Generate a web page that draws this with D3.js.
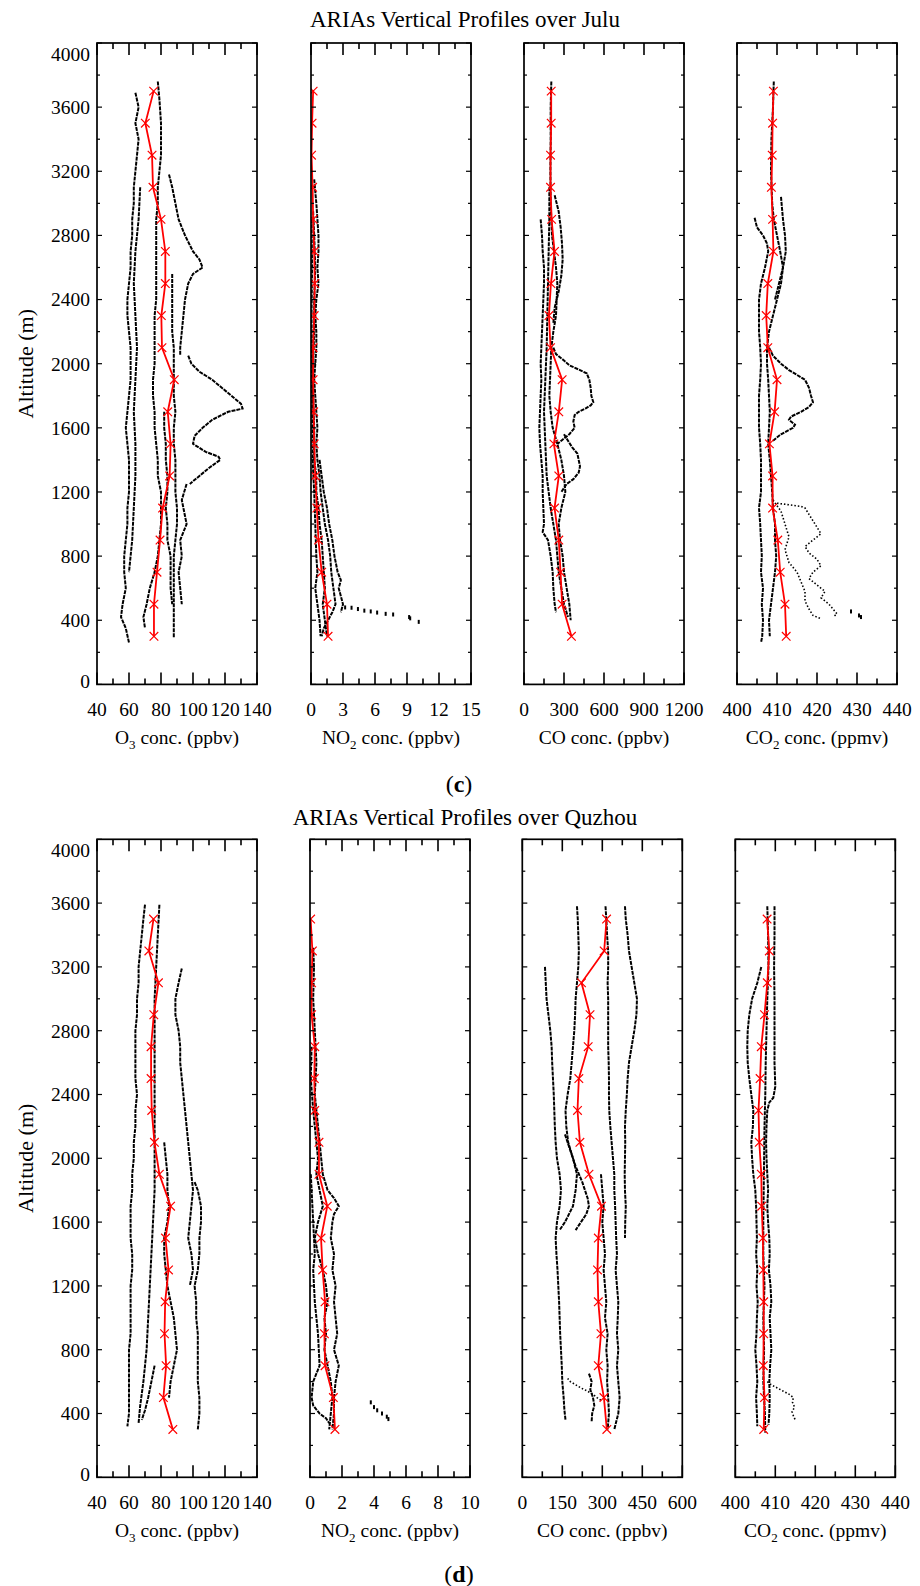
<!DOCTYPE html>
<html>
<head>
<meta charset="utf-8">
<script src="https://cdn.jsdelivr.net/npm/d3@7"></script>
<style>
  body { margin: 0; background: #fff; }
  svg { display: block; font-family: "Liberation Serif", "Times New Roman", serif; }
</style>
</head>
<body>
<svg id="chart" width="920" height="1586"></svg>
<script>
// ---- altitudes of the red mean profiles (m)
const juluAlt = [3700, 3500, 3300, 3100, 2900, 2700, 2500, 2300, 2100, 1900, 1700, 1500, 1300, 1100, 900, 700, 500, 300];
const quzhouAlt = [3500, 3300, 3100, 2900, 2700, 2500, 2300, 2100, 1900, 1700, 1500, 1300, 1100, 900, 700, 500, 300];

// ---- mean values (red lines)
const juluO3Mean = [75.4, 70.2, 74.4, 75, 80, 82.7, 82.7, 80.2, 80.6, 88.3, 84.2, 86, 85.4, 81, 79.4, 77.5, 75.6, 75.6];
const juluNO2Mean = [0.2, 0.1, 0.05, 0.15, 0.2, 0.3, 0.35, 0.3, 0.2, 0.2, 0.25, 0.3, 0.4, 0.55, 0.7, 1.0, 1.5, 1.6];
const juluCOMean = [204, 204, 199, 199, 207, 229, 202, 187, 199, 286, 261, 224, 261, 229, 261, 274, 286, 356];
const juluCO2Mean = [409.1, 408.9, 408.8, 408.6, 408.9, 409.1, 407.7, 407.3, 407.7, 410.0, 409.4, 408.1, 408.9, 408.9, 410.2, 410.8, 412.0, 412.3];

const quzhouO3Mean = [75.3, 72.4, 78.4, 75.5, 73.8, 73.8, 74.2, 75.9, 79, 86, 82.8, 84.7, 82.6, 82.2, 83.2, 81.5, 87.4];
const quzhouNO2Mean = [0.04, 0.15, 0.1, 0.1, 0.3, 0.27, 0.3, 0.56, 0.56, 1.08, 0.69, 0.79, 0.94, 0.9, 0.94, 1.46, 1.56];
const quzhouCOMean = [316, 307, 222, 254, 247, 212, 207, 216, 250, 297, 285, 282, 285, 295, 285, 306, 317];
const quzhouCO2Mean = [407.95, 408.5, 408, 407.3, 406.5, 406.2, 405.8, 406, 406.5, 406.6, 406.9, 407, 407.1, 407.1, 407, 407.3, 407.1];

// ---- individual flight profiles, [altitude, value]
const juluO3Profiles = [
  [[3690,64],[3600,66],[3500,64],[3400,66],[3300,65],[3200,64],[3100,63],[3000,63],[2900,62],[2800,62],[2700,61],[2600,61],[2500,60],[2400,59],[2300,59],[2200,60],[2100,61],[2000,61],[1900,61],[1800,60],[1700,59],[1600,58],[1500,59],[1400,60],[1300,60],[1200,60],[1100,59],[1000,59],[900,58],[800,57],[700,57],[600,58],[500,56],[420,55],[350,58],[260,60]],
  [[3100,67],[2900,66],[2700,64],[2500,63],[2300,64],[2100,65],[1900,64],[1700,63],[1500,64],[1300,64],[1100,63],[900,62],[700,60]],
  [[3760,78],[3650,79],[3500,80],[3400,80],[3300,80],[3200,79],[3100,78],[3000,78],[2900,77],[2800,77],[2700,77],[2600,77],[2500,77],[2400,77],[2300,76],[2200,76],[2100,76],[2000,76],[1900,75],[1800,75],[1700,76],[1600,76],[1500,77],[1400,78],[1300,78],[1200,80],[1100,80],[1000,80],[900,79],[800,78],[700,76],[600,73],[500,71],[420,69],[350,70]],
  [[2560,87],[2450,87],[2300,87],[2200,87],[2100,88],[2000,88],[1900,88],[1800,88],[1700,89],[1600,88],[1500,88],[1400,89],[1300,89],[1200,89],[1100,90],[1000,90],[900,89],[800,88],[700,88],[600,88],[500,88],[400,88],[290,88]],
  [[1700,82],[1600,82],[1500,83],[1400,83],[1300,84],[1200,84],[1100,83],[1000,84],[900,84],[800,86],[700,86],[600,86],[500,87]],
  [[3180,85],[3100,87],[3000,89],[2900,91],[2800,95],[2700,100],[2650,104],[2600,106],[2560,100],[2500,97],[2400,95],[2300,94],[2200,93],[2100,92],[2050,92]],
  [[2050,97],[2000,99],[1950,104],[1900,112],[1850,118],[1800,124],[1750,130],[1720,131],[1700,122],[1650,112],[1600,106],[1550,101],[1500,100],[1450,108],[1420,116],[1400,117],[1350,110],[1300,104],[1250,98]],
  [[1250,96],[1150,93],[1050,95],[1000,96],[900,92],[800,93],[700,91],[600,92],[500,93]]
];
const juluNO2Profiles = [
  [[3150,0.3],[3000,0.5],[2900,0.6],[2800,0.7],[2700,0.7],[2600,0.6],[2500,0.7],[2400,0.5],[2300,0.4],[2200,0.5],[2100,0.5],[2000,0.4],[1900,0.3],[1800,0.4],[1700,0.5],[1600,0.6],[1500,0.5],[1400,0.6],[1300,0.8],[1200,0.9],[1100,1.1],[1000,1.3],[900,1.6],[800,1.8],[700,1.9],[600,2.1],[500,2.3],[450,2.0],[400,1.6],[350,1.2],[300,1.0]],
  [[2950,0.2],[2800,0.3],[2600,0.4],[2400,0.3],[2200,0.3],[2000,0.2],[1800,0.2],[1600,0.3],[1400,0.3],[1300,0.5],[1200,0.5],[1100,0.7],[1000,0.8],[900,1.0],[800,1.1],[700,1.2],[600,1.3],[500,1.1],[400,1.3],[300,1.5]],
  [[2900,0.05],[2600,0.1],[2300,0.05],[2000,0.1],[1700,0.1],[1400,0.15],[1200,0.3],[1000,0.4],[800,0.5],[700,0.6],[600,0.4],[500,0.6],[400,0.8],[300,0.9]],
  [[1400,0.8],[1300,1.0],[1200,1.2],[1100,1.5],[1000,1.7],[900,2.0],[800,2.2],[700,2.5],[650,2.8],[600,2.6],[550,2.8],[500,3.0],[450,2.8]]
];
const juluNO2Dots = [[480,3.2],[478,3.8],[470,4.4],[460,5.0],[455,5.6],[448,6.2],[440,7.0],[436,7.7],[420,9.2],[412,9.3],[390,10.1]];

const juluCOProfiles = [
  [[3760,205],[3600,200],[3400,200],[3200,198],[3000,200],[2900,205],[2800,210],[2700,225],[2600,240],[2500,250],[2400,245],[2300,240],[2200,220],[2100,205],[2000,200],[1900,195],[1800,190],[1700,200],[1600,215],[1500,250],[1400,280],[1300,300],[1200,310],[1100,280],[1000,260],[900,270],[800,290],[700,300],[600,320],[500,340],[400,350]],
  [[2100,220],[2060,240],[2020,300],[1990,340],[1960,420],[1940,470],[1900,490],[1850,500],[1800,505],[1760,520],[1740,500],[1720,460],[1700,410],[1680,380],[1640,370],[1600,380],[1560,340],[1520,280],[1500,250]],
  [[1560,300],[1520,330],[1480,360],[1440,400],[1400,410],[1360,420],[1320,410],[1280,370],[1250,320],[1200,280]],
  [[2900,125],[2800,135],[2700,140],[2600,150],[2500,150],[2400,145],[2300,140],[2200,135],[2100,130],[2000,125],[1900,130],[1800,125],[1700,120],[1600,115],[1500,120],[1400,130],[1300,140],[1200,140],[1100,145],[1000,150],[950,140],[900,180],[800,200],[700,215],[600,220],[500,230],[450,240]],
  [[3100,190],[2900,190],[2700,185],[2500,180],[2300,175],[2100,170],[1900,160],[1700,150],[1500,160],[1300,170],[1100,200],[900,240],[700,260],[600,280],[500,300],[420,330]],
  [[3050,230],[2950,260],[2850,275],[2750,285],[2650,290],[2550,280],[2450,260],[2350,230],[2250,220]]
];

const juluCO2Profiles = [
  [[2910,404.4],[2850,405],[2800,406.5],[2750,407.5],[2700,407.8],[2600,407],[2500,406],[2400,405.5],[2300,405.5],[2200,405.5],[2100,405.8],[2000,406],[1900,405.8],[1800,405.5],[1700,405.5],[1600,405.5],[1500,405.8],[1400,406],[1300,406],[1200,406],[1100,405.5],[1000,405.8],[900,406],[800,406.2],[700,406],[600,406.5],[500,406.2],[400,406.5],[300,406.3],[260,406]],
  [[3760,409.2],[3600,409],[3400,408.6],[3200,408.5],[3000,408.8],[2900,409.2],[2800,410],[2700,410.8],[2600,411.5],[2500,411],[2400,410],[2300,409],[2200,408],[2100,407.5],[2000,407.5],[1900,407.8],[1800,408],[1700,408.2],[1600,408],[1500,407.8],[1400,408.2],[1300,408.5],[1200,408.8],[1100,409],[1000,409.5],[900,409.5],[800,409.8],[700,409.5],[600,409],[500,408.5],[400,408],[300,408.2]],
  [[2100,408],[2050,409],[2000,411],[1960,413],[1930,415],[1900,417],[1850,418],[1800,418.5],[1760,419],[1730,418],[1700,416],[1670,413.5],[1650,413],[1620,414.5],[1600,414],[1560,411],[1520,409]],
  [[3040,411],[2900,411.5],[2800,412],[2700,412.2],[2600,411.5],[2500,410.5],[2400,409.5]]
];
const juluCO2Dotted = [
  [[1130,410],[1120,413],[1110,416],[1100,417],[1060,418],[1020,419],[980,420],[940,421],[900,419],[860,417],[820,418],[780,420],[740,421],[700,419],[660,418],[620,420],[580,422],[540,421],[500,423],[470,424],[440,425],[420,424]],
  [[1150,409],[1080,411],[1000,412],[920,413],[840,412],[760,413],[700,415],[640,416],[580,417],[520,417],[470,418],[430,419],[410,421]]
];
const juluCO2Dots = [[455,428.5],[430,430.5],[420,431]];

const quzhouO3Profiles = [
  [[3590,70],[3500,69],[3400,68],[3300,67],[3200,66],[3100,66],[3000,65],[2900,65],[2800,64],[2700,64],[2600,64],[2500,64],[2400,65],[2300,64],[2200,64],[2100,63],[2000,63],[1900,62],[1800,62],[1700,61],[1600,61],[1500,61],[1400,62],[1300,62],[1200,61],[1100,61],[1000,61],[900,61],[800,60],[700,60],[600,60],[500,60],[400,60],[320,59]],
  [[3590,79],[3400,78],[3200,77],[3000,76],[2800,76],[2600,76],[2400,76],[2200,76],[2000,76],[1800,76],[1600,75],[1400,74],[1200,73],[1000,72],[800,71],[600,69],[450,67],[340,66]],
  [[1850,101],[1800,103],[1700,105],[1600,105],[1500,104],[1400,104],[1300,103],[1200,101],[1100,102],[1000,102],[900,103],[800,103],[700,103],[600,103],[500,104],[400,104],[300,103]],
  [[3190,93],[3100,91],[3000,89],[2900,89],[2800,91],[2700,92],[2600,92],[2500,93],[2400,94],[2300,95],[2200,96],[2100,97],[2000,98],[1900,99],[1800,100],[1700,99],[1600,98],[1500,97],[1400,99],[1300,100],[1200,98]],
  [[2100,82],[2000,83],[1900,84],[1800,84],[1700,85],[1600,84],[1500,82],[1400,82],[1300,83],[1200,84],[1100,86],[1000,88],[900,89],[800,90],[700,88],[600,86],[500,85]],
  [[700,76],[600,74],[500,72],[420,70],[360,68]]
];
const quzhouNO2Profiles = [
  [[3320,0.2],[3200,0.25],[3000,0.2],[2800,0.3],[2600,0.4],[2400,0.3],[2200,0.5],[2000,0.7],[1900,0.8],[1800,1.1],[1750,1.5],[1700,1.8],[1650,1.5],[1600,1.4],[1500,1.3],[1400,1.5],[1300,1.4],[1200,1.6],[1100,1.5],[1000,1.6],[900,1.7],[800,1.5],[700,1.8],[600,1.6],[500,1.5],[400,1.5],[300,1.4]],
  [[2700,0.1],[2500,0.05],[2300,0.2],[2100,0.4],[2000,0.5],[1900,0.4],[1800,0.6],[1700,0.8],[1600,0.5],[1500,0.3],[1400,0.5],[1300,0.8],[1200,1.0],[1100,1.1],[1000,0.9],[900,1.0],[800,0.9],[700,1.1],[600,1.3],[500,1.4],[400,1.3],[300,1.2]],
  [[1900,0.05],[1800,0.1],[1600,0.2],[1400,0.3],[1300,0.2],[1100,0.3],[900,0.5],[700,0.6],[600,0.2],[500,0.1],[450,0.2],[400,0.6],[370,1.0],[340,1.2]]
];
const quzhouNO2Dots = [[470,3.8],[440,4.0],[420,4.2],[400,4.5],[380,4.8],[365,4.9]];

const quzhouCOProfiles = [
  [[3200,85],[3100,88],[3000,91],[2900,98],[2800,105],[2700,110],[2600,112],[2500,115],[2400,118],[2300,120],[2200,122],[2100,125],[2000,130],[1900,140],[1800,145],[1700,140],[1600,130],[1500,125],[1400,128],[1300,132],[1200,135],[1100,138],[1000,140],[900,142],[800,145],[700,148],[600,150],[500,155],[420,158],[360,162]],
  [[3580,205],[3500,208],[3400,210],[3300,212],[3200,210],[3100,205],[3000,200],[2900,198],[2800,195],[2700,190],[2600,185],[2500,180],[2400,170],[2300,162],[2200,165],[2100,172],[2000,190],[1900,205],[1800,200],[1700,190],[1650,175],[1600,160],[1550,140]],
  [[3580,312],[3500,315],[3400,318],[3300,322],[3200,322],[3100,320],[3000,322],[2900,322],[2800,322],[2700,322],[2600,324],[2500,325],[2400,325],[2300,326],[2200,330],[2100,335],[2000,340],[1900,345],[1800,345],[1700,348],[1600,350],[1500,352],[1400,355],[1300,350],[1200,355],[1100,360],[1000,358],[900,355],[800,360],[700,355],[600,360],[500,365],[400,360],[300,345]],
  [[3580,385],[3500,388],[3400,395],[3300,400],[3200,410],[3100,420],[3000,430],[2900,428],[2800,420],[2700,410],[2600,400],[2500,395],[2400,392],[2300,388],[2200,385],[2100,386],[2000,385],[1900,384],[1800,385],[1700,388],[1600,386],[1500,385]],
  [[1900,295],[1800,300],[1700,305],[1600,300],[1500,305],[1400,310],[1300,305],[1200,310],[1100,315],[1000,310],[900,320],[800,315],[700,320],[600,318],[500,322],[400,325],[300,320]],
  [[650,250],[600,260],[550,255],[500,265],[450,270],[400,262],[350,260]],
  [[2150,160],[2050,180],[1950,200],[1850,225],[1750,245],[1700,250],[1650,240],[1600,220],[1550,200]]
];
const quzhouCODotted = [[[620,170],[600,180],[580,200],[560,220],[540,245],[520,265],[500,280],[480,297]]];

const quzhouCO2Profiles = [
  [[3580,408],[3400,408.2],[3200,408.3],[3000,408],[2800,407.8],[2600,407.6],[2400,407.5],[2200,407.3],[2000,407.2],[1800,407.1],[1600,407],[1400,407],[1200,407.3],[1000,407],[800,407.2],[600,407],[400,407.4],[280,407.5]],
  [[3580,409.8],[3400,409.8],[3200,409.7],[3000,409.8],[2800,409.8],[2600,409.8],[2450,410],[2380,409.5],[2350,408.5],[2300,408],[2200,407.8],[2100,407.7],[2000,407.8],[1900,408],[1800,408.2],[1700,408],[1600,408.2],[1500,408.5],[1400,408.6],[1300,408.4],[1200,408.8],[1100,409],[1000,408.6],[900,408.8],[800,409],[700,408.7],[600,408.5],[500,408.6],[400,408.5],[330,408.3]],
  [[3200,406.5],[3100,405.5],[3000,404.2],[2900,403.5],[2800,403.1],[2700,403],[2600,403.1],[2500,403.5],[2400,404],[2300,404.5],[2200,404.4],[2100,404],[2000,404.2],[1900,404.5],[1800,405],[1700,405.2],[1600,405.3],[1500,405.4],[1400,405.2],[1300,405.5],[1200,405.3],[1100,405.6],[1000,405.4],[900,405.3],[800,405],[700,405.3],[600,405.5],[500,405.2],[400,405.4],[320,405.5]]
];
const quzhouCO2Dotted = [[[600,408],[580,409],[560,410.5],[540,412],[520,413.5],[500,414.5],[470,414.3],[440,414.8],[410,414.2],[380,414.6],[360,415]]];

// ---- tick labels
const altTicks = [0, 400, 800, 1200, 1600, 2000, 2400, 2800, 3200, 3600, 4000];
const o3Ticks = [40, 60, 80, 100, 120, 140];
const juluNO2Ticks = [0, 3, 6, 9, 12, 15];
const juluCOTicks = [0, 300, 600, 900, 1200];
const co2Ticks = [400, 410, 420, 430, 440];
const quzhouNO2Ticks = [0, 2, 4, 6, 8, 10];
const quzhouCOTicks = [0, 150, 300, 450, 600];

const o3Label = [["O", 0], ["3", 1], [" conc. (ppbv)", 0]];
const no2Label = [["NO", 0], ["2", 1], [" conc. (ppbv)", 0]];
const coLabel = [["CO conc. (ppbv)", 0]];
const co2Label = [["CO", 0], ["2", 1], [" conc. (ppmv)", 0]];

const svg = d3.select('#chart');
const W = 160;

const rows = [
  {
    title: 'ARIAs Vertical Profiles over Julu', titleY: 27, tag: 'c', tagY: 792,
    top: 43, bottom: 684.4, alt: juluAlt,
    panels: [
      { left: 97, ticks: o3Ticks, label: o3Label, profiles: juluO3Profiles, mean: juluO3Mean },
      { left: 311, ticks: juluNO2Ticks, label: no2Label, profiles: juluNO2Profiles, mean: juluNO2Mean, dots: juluNO2Dots },
      { left: 524, ticks: juluCOTicks, label: coLabel, profiles: juluCOProfiles, mean: juluCOMean },
      { left: 737, ticks: co2Ticks, label: co2Label, profiles: juluCO2Profiles, mean: juluCO2Mean, dotted: juluCO2Dotted, dots: juluCO2Dots }
    ]
  },
  {
    title: 'ARIAs Vertical Profiles over Quzhou', titleY: 825, tag: 'd', tagY: 1582,
    top: 839.3, bottom: 1477.3, alt: quzhouAlt,
    panels: [
      { left: 97, ticks: o3Ticks, label: o3Label, profiles: quzhouO3Profiles, mean: quzhouO3Mean },
      { left: 310, ticks: quzhouNO2Ticks, label: no2Label, profiles: quzhouNO2Profiles, mean: quzhouNO2Mean, dots: quzhouNO2Dots },
      { left: 522.3, ticks: quzhouCOTicks, label: coLabel, profiles: quzhouCOProfiles, mean: quzhouCOMean, dotted: quzhouCODotted },
      { left: 735.3, ticks: co2Ticks, label: co2Label, profiles: quzhouCO2Profiles, mean: quzhouCO2Mean, dotted: quzhouCO2Dotted }
    ]
  }
];

rows.forEach((row, ri) => {
  const y = d3.scaleLinear().domain([0, 4000]).range([row.bottom, row.top]);

  svg.append('text')
    .attr('x', 465).attr('y', row.titleY)
    .attr('text-anchor', 'middle')
    .attr('font-size', 23)
    .text(row.title);

  const tag = svg.append('text')
    .attr('x', 459).attr('y', row.tagY)
    .attr('text-anchor', 'middle')
    .attr('font-size', 24);
  tag.append('tspan').text('(');
  tag.append('tspan').attr('font-weight', 'bold').text(row.tag);
  tag.append('tspan').text(')');

  svg.append('text')
    .attr('transform', `translate(33, ${(row.top + row.bottom) / 2}) rotate(-90)`)
    .attr('text-anchor', 'middle')
    .attr('font-size', 22)
    .text('Altitude (m)');

  row.panels.forEach((p, pi) => {
    const ext = d3.extent(p.ticks);
    const x = d3.scaleLinear().domain(ext).range([p.left, p.left + W]);
    const g = svg.append('g');
    const clipId = `clip${ri}${pi}`;
    g.append('clipPath').attr('id', clipId)
      .append('rect')
      .attr('x', p.left).attr('y', row.top)
      .attr('width', W).attr('height', row.bottom - row.top);

    const plot = g.append('g').attr('clip-path', `url(#${clipId})`);
    const line = d3.line().x(d => x(d[1])).y(d => y(d[0]));

    plot.selectAll('path.prof')
      .data(p.profiles)
      .join('path')
      .attr('class', 'prof')
      .attr('d', line)
      .attr('fill', 'none')
      .attr('stroke', '#000')
      .attr('stroke-width', 2)
      .attr('stroke-dasharray', '4 1');

    plot.selectAll('path.dotted')
      .data(p.dotted || [])
      .join('path')
      .attr('class', 'dotted')
      .attr('d', line)
      .attr('fill', 'none')
      .attr('stroke', '#000')
      .attr('stroke-width', 1.6)
      .attr('stroke-dasharray', '1.5 2');

    plot.selectAll('rect.dot')
      .data(p.dots || [])
      .join('rect')
      .attr('class', 'dot')
      .attr('x', d => x(d[1]) - 1)
      .attr('y', d => y(d[0]) - 2)
      .attr('width', 2).attr('height', 4)
      .attr('fill', '#000');

    const meanPts = row.alt.map((a, i) => [a, p.mean[i]]);
    plot.append('path')
      .attr('d', line(meanPts))
      .attr('fill', 'none')
      .attr('stroke', '#ff0000')
      .attr('stroke-width', 1.8);

    plot.selectAll('path.mk')
      .data(meanPts)
      .join('path')
      .attr('class', 'mk')
      .attr('transform', d => `translate(${x(d[1])},${y(d[0])})`)
      .attr('d', d3.symbol(d3.symbolTimes, 50))
      .attr('fill', 'none')
      .attr('stroke', '#ff0000')
      .attr('stroke-width', 1.2);

    // frame
    g.append('rect')
      .attr('x', p.left).attr('y', row.top)
      .attr('width', W).attr('height', row.bottom - row.top)
      .attr('fill', 'none')
      .attr('stroke', '#000')
      .attr('stroke-width', 1.7);

    // x ticks, major and minor, inward on top and bottom
    const step = p.ticks[1] - p.ticks[0];
    const minor = p.ticks.slice(0, -1).map(t => t + step / 2);
    const xt = [...p.ticks.map(t => [t, 12]), ...minor.map(t => [t, 6])];
    g.selectAll('line.xt')
      .data(xt.flatMap(d => [[d[0], row.bottom, -d[1]], [d[0], row.top, d[1]]]))
      .join('line')
      .attr('x1', d => x(d[0])).attr('x2', d => x(d[0]))
      .attr('y1', d => d[1]).attr('y2', d => d[1] + d[2])
      .attr('stroke', '#000').attr('stroke-width', 1.6);

    // y ticks
    const yt = [...altTicks.map(t => [t, 5]), ...altTicks.slice(0, -1).map(t => [t + 200, 3])];
    g.selectAll('line.yt')
      .data(yt.flatMap(d => [[d[0], p.left, d[1]], [d[0], p.left + W, -d[1]]]))
      .join('line')
      .attr('x1', d => d[1]).attr('x2', d => d[1] + d[2])
      .attr('y1', d => y(d[0])).attr('y2', d => y(d[0]))
      .attr('stroke', '#000').attr('stroke-width', 1.2);

    g.selectAll('text.xl')
      .data(p.ticks)
      .join('text')
      .attr('x', d => x(d))
      .attr('y', row.bottom + 32)
      .attr('text-anchor', 'middle')
      .attr('font-size', 19.5)
      .text(d => d);

    const lab = g.append('text')
      .attr('x', p.left + W / 2)
      .attr('y', row.bottom + 60)
      .attr('text-anchor', 'middle')
      .attr('font-size', 19.5);
    p.label.forEach(([s, sub], i) => {
      const prevSub = i > 0 && p.label[i - 1][1];
      lab.append('tspan')
        .attr('font-size', sub ? 13 : 19.5)
        .attr('dy', sub ? 5 : (prevSub ? -5 : 0))
        .text(s);
    });

    if (pi === 0) {
      g.selectAll('text.yl')
        .data(altTicks)
        .join('text')
        .attr('x', p.left - 7)
        .attr('y', d => Math.min(Math.max(y(d), row.top + 11), row.bottom - 3))
        .attr('dy', '0.35em')
        .attr('text-anchor', 'end')
        .attr('font-size', 19.5)
        .text(d => d);
    }
  });
});
</script>
</body>
</html>
